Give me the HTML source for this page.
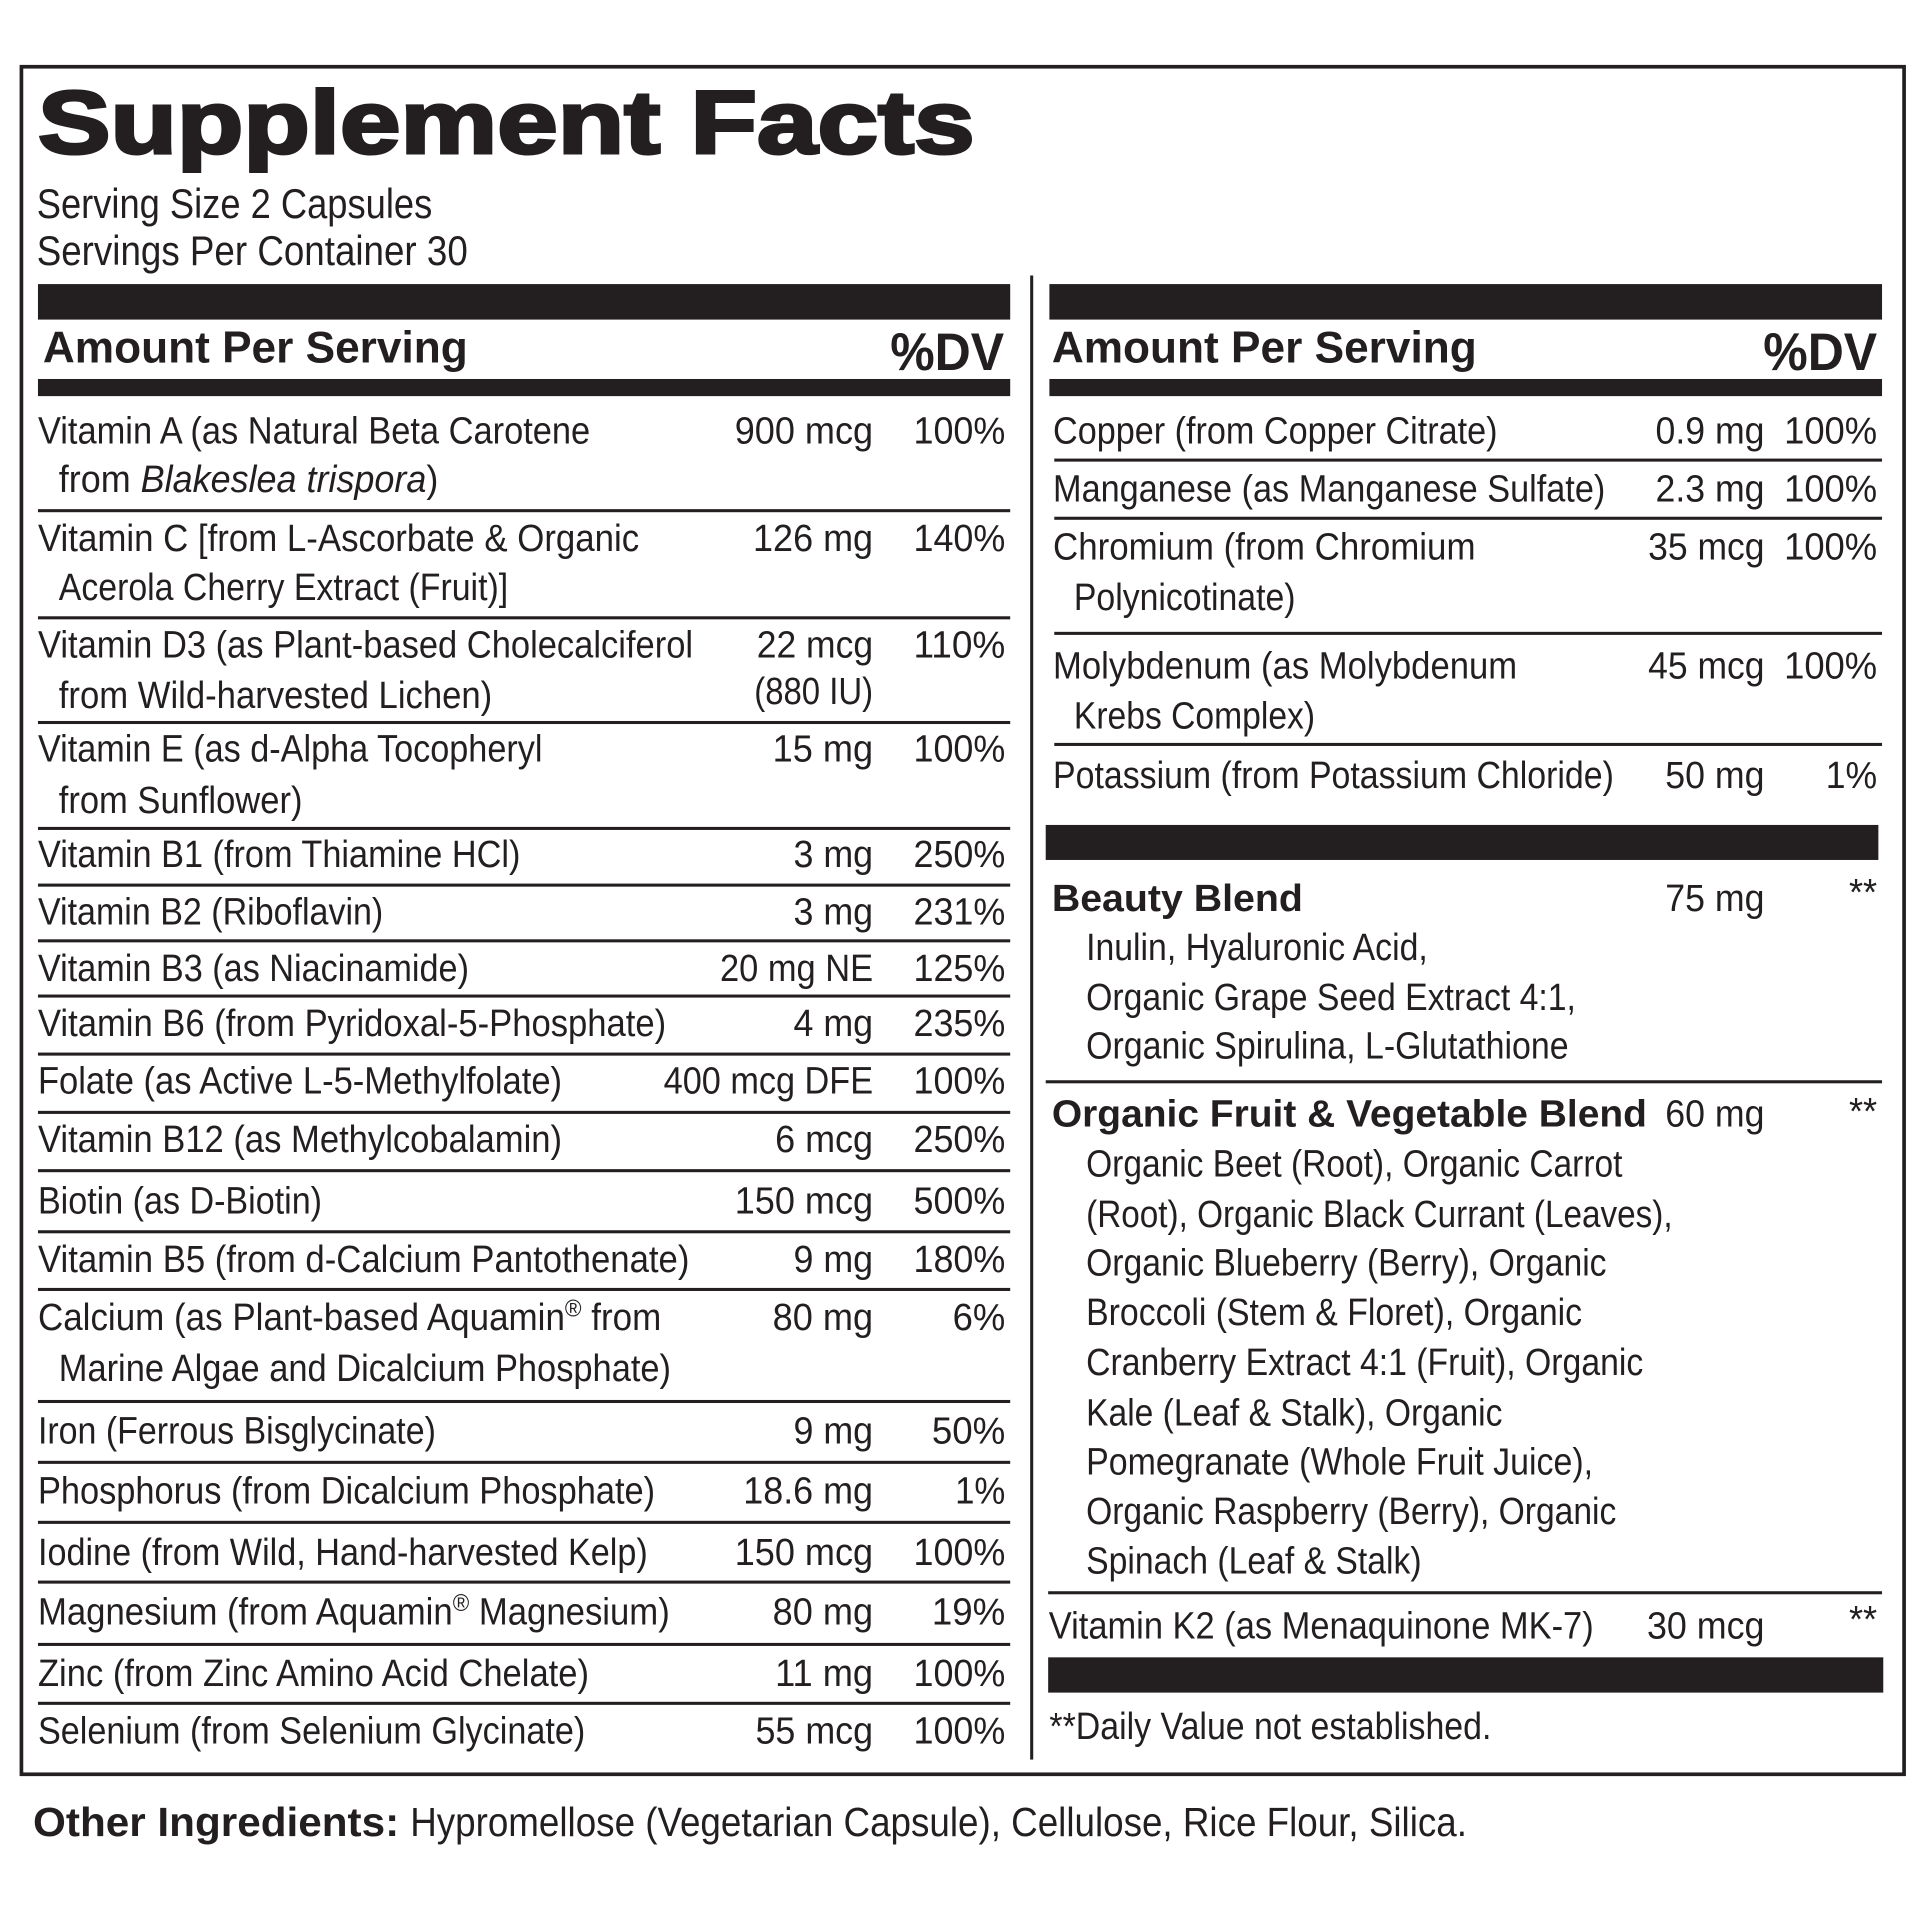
<!DOCTYPE html>
<html>
<head>
<meta charset="utf-8">
<style>
html,body{margin:0;padding:0;background:#fff;}
svg{display:block;}
text{font-family:"Liberation Sans",Arial,sans-serif;fill:#231f20;}
.r{font-size:31px;}
.b{font-size:31px;font-weight:bold;}
</style>
</head>
<body>
<svg width="1920" height="1920" viewBox="0 0 1568 1568" xmlns="http://www.w3.org/2000/svg">
<rect x="0" y="0" width="1568" height="1568" fill="#fff"/>
<!-- outer border -->
<rect x="17.5" y="54.5" width="1537.5" height="1394.5" fill="none" stroke="#231f20" stroke-width="3"/>

<!-- title -->
<text x="31" y="125" font-size="73" font-weight="bold" stroke="#231f20" stroke-width="2.5" textLength="765" lengthAdjust="spacingAndGlyphs">Supplement Facts</text>
<text x="30" y="178" font-size="34" textLength="323" lengthAdjust="spacingAndGlyphs">Serving Size 2 Capsules</text>
<text x="30" y="216.5" font-size="34" textLength="352" lengthAdjust="spacingAndGlyphs">Servings Per Container 30</text>

<!-- divider -->
<rect x="841.3" y="225" width="2.5" height="1212" fill="#231f20"/>

<!-- header bars -->
<rect x="31" y="232" width="794" height="29" fill="#231f20"/>
<rect x="857" y="232" width="680" height="29" fill="#231f20"/>
<text x="35" y="296" font-size="36" font-weight="bold" textLength="347" lengthAdjust="spacingAndGlyphs">Amount Per Serving</text>
<text x="820" y="302" font-size="43" font-weight="bold" text-anchor="end" textLength="93" lengthAdjust="spacingAndGlyphs">%DV</text>
<text x="859" y="296" font-size="36" font-weight="bold" textLength="347" lengthAdjust="spacingAndGlyphs">Amount Per Serving</text>
<text x="1533" y="302" font-size="43" font-weight="bold" text-anchor="end" textLength="93" lengthAdjust="spacingAndGlyphs">%DV</text>
<rect x="31" y="309.5" width="794" height="14" fill="#231f20"/>
<rect x="857" y="309.5" width="680" height="14" fill="#231f20"/>

<!-- left rules -->
<g fill="#231f20">
<rect x="31" y="415.8" width="794" height="2.5"/>
<rect x="31" y="503.3" width="794" height="2.5"/>
<rect x="31" y="588.8" width="794" height="2.5"/>
<rect x="31" y="675.3" width="794" height="2.5"/>
<rect x="31" y="721.6" width="794" height="2.5"/>
<rect x="31" y="767.1" width="794" height="2.5"/>
<rect x="31" y="812.2" width="794" height="2.5"/>
<rect x="31" y="859.6" width="794" height="2.5"/>
<rect x="31" y="907.2" width="794" height="2.5"/>
<rect x="31" y="954.8" width="794" height="2.5"/>
<rect x="31" y="1004.7" width="794" height="2.5"/>
<rect x="31" y="1051.8" width="794" height="2.5"/>
<rect x="31" y="1143.3" width="794" height="2.5"/>
<rect x="31" y="1193" width="794" height="2.5"/>
<rect x="31" y="1242" width="794" height="2.5"/>
<rect x="31" y="1290.8" width="794" height="2.5"/>
<rect x="31" y="1341.7" width="794" height="2.5"/>
<rect x="31" y="1389.8" width="794" height="2.5"/>
</g>

<!-- left labels -->
<g class="r">
<text class="r" x="31" y="362" textLength="451" lengthAdjust="spacingAndGlyphs">Vitamin A (as Natural Beta Carotene</text>
<text class="r" x="48" y="402" textLength="310" lengthAdjust="spacingAndGlyphs">from <tspan font-style="italic">Blakeslea trispora</tspan>)</text>
<text class="r" x="31" y="450" textLength="491" lengthAdjust="spacingAndGlyphs">Vitamin C [from L-Ascorbate &amp; Organic</text>
<text class="r" x="48" y="490" textLength="367" lengthAdjust="spacingAndGlyphs">Acerola Cherry Extract (Fruit)]</text>
<text class="r" x="31" y="537" textLength="535" lengthAdjust="spacingAndGlyphs">Vitamin D3 (as Plant-based Cholecalciferol</text>
<text class="r" x="48" y="578" textLength="354" lengthAdjust="spacingAndGlyphs">from Wild-harvested Lichen)</text>
<text class="r" x="31" y="622" textLength="412" lengthAdjust="spacingAndGlyphs">Vitamin E (as d-Alpha Tocopheryl</text>
<text class="r" x="48" y="664" textLength="199" lengthAdjust="spacingAndGlyphs">from Sunflower)</text>
<text class="r" x="31" y="708" textLength="394" lengthAdjust="spacingAndGlyphs">Vitamin B1 (from Thiamine HCl)</text>
<text class="r" x="31" y="755" textLength="282" lengthAdjust="spacingAndGlyphs">Vitamin B2 (Riboflavin)</text>
<text class="r" x="31" y="801" textLength="352" lengthAdjust="spacingAndGlyphs">Vitamin B3 (as Niacinamide)</text>
<text class="r" x="31" y="846" textLength="513" lengthAdjust="spacingAndGlyphs">Vitamin B6 (from Pyridoxal-5-Phosphate)</text>
<text class="r" x="31" y="893" textLength="428" lengthAdjust="spacingAndGlyphs">Folate (as Active L-5-Methylfolate)</text>
<text class="r" x="31" y="941" textLength="428" lengthAdjust="spacingAndGlyphs">Vitamin B12 (as Methylcobalamin)</text>
<text class="r" x="31" y="991" textLength="232" lengthAdjust="spacingAndGlyphs">Biotin (as D-Biotin)</text>
<text class="r" x="31" y="1039" textLength="532" lengthAdjust="spacingAndGlyphs">Vitamin B5 (from d-Calcium Pantothenate)</text>
<text class="r" x="31" y="1086" textLength="509" lengthAdjust="spacingAndGlyphs">Calcium (as Plant-based Aquamin<tspan font-size="20" dy="-11">®</tspan><tspan dy="11"> from</tspan></text>
<text class="r" x="48" y="1128" textLength="500" lengthAdjust="spacingAndGlyphs">Marine Algae and Dicalcium Phosphate)</text>
<text class="r" x="31" y="1179" textLength="325" lengthAdjust="spacingAndGlyphs">Iron (Ferrous Bisglycinate)</text>
<text class="r" x="31" y="1228" textLength="504" lengthAdjust="spacingAndGlyphs">Phosphorus (from Dicalcium Phosphate)</text>
<text class="r" x="31" y="1278" textLength="498" lengthAdjust="spacingAndGlyphs">Iodine (from Wild, Hand-harvested Kelp)</text>
<text class="r" x="31" y="1326.5" textLength="516" lengthAdjust="spacingAndGlyphs">Magnesium (from Aquamin<tspan font-size="20" dy="-11">®</tspan><tspan dy="11"> Magnesium)</tspan></text>
<text class="r" x="31" y="1377" textLength="450" lengthAdjust="spacingAndGlyphs">Zinc (from Zinc Amino Acid Chelate)</text>
<text class="r" x="31" y="1424" textLength="447" lengthAdjust="spacingAndGlyphs">Selenium (from Selenium Glycinate)</text>
</g>

<!-- left values -->
<g>
<text class="r" x="713" y="362" text-anchor="end" textLength="113" lengthAdjust="spacingAndGlyphs">900 mcg</text>
<text class="r" x="713" y="450" text-anchor="end" textLength="98" lengthAdjust="spacingAndGlyphs">126 mg</text>
<text class="r" x="713" y="537" text-anchor="end" textLength="95" lengthAdjust="spacingAndGlyphs">22 mcg</text>
<text class="r" x="713" y="575" text-anchor="end" textLength="97" lengthAdjust="spacingAndGlyphs">(880 IU)</text>
<text class="r" x="713" y="622" text-anchor="end" textLength="82" lengthAdjust="spacingAndGlyphs">15 mg</text>
<text class="r" x="713" y="708" text-anchor="end" textLength="65" lengthAdjust="spacingAndGlyphs">3 mg</text>
<text class="r" x="713" y="755" text-anchor="end" textLength="65" lengthAdjust="spacingAndGlyphs">3 mg</text>
<text class="r" x="713" y="801" text-anchor="end" textLength="125" lengthAdjust="spacingAndGlyphs">20 mg NE</text>
<text class="r" x="713" y="846" text-anchor="end" textLength="65" lengthAdjust="spacingAndGlyphs">4 mg</text>
<text class="r" x="713" y="893" text-anchor="end" textLength="171" lengthAdjust="spacingAndGlyphs">400 mcg DFE</text>
<text class="r" x="713" y="941" text-anchor="end" textLength="80" lengthAdjust="spacingAndGlyphs">6 mcg</text>
<text class="r" x="713" y="991" text-anchor="end" textLength="113" lengthAdjust="spacingAndGlyphs">150 mcg</text>
<text class="r" x="713" y="1039" text-anchor="end" textLength="65" lengthAdjust="spacingAndGlyphs">9 mg</text>
<text class="r" x="713" y="1086" text-anchor="end" textLength="82" lengthAdjust="spacingAndGlyphs">80 mg</text>
<text class="r" x="713" y="1179" text-anchor="end" textLength="65" lengthAdjust="spacingAndGlyphs">9 mg</text>
<text class="r" x="713" y="1228" text-anchor="end" textLength="106" lengthAdjust="spacingAndGlyphs">18.6 mg</text>
<text class="r" x="713" y="1278" text-anchor="end" textLength="113" lengthAdjust="spacingAndGlyphs">150 mcg</text>
<text class="r" x="713" y="1326.5" text-anchor="end" textLength="82" lengthAdjust="spacingAndGlyphs">80 mg</text>
<text class="r" x="713" y="1377" text-anchor="end" textLength="80" lengthAdjust="spacingAndGlyphs">11 mg</text>
<text class="r" x="713" y="1424" text-anchor="end" textLength="96" lengthAdjust="spacingAndGlyphs">55 mcg</text>
</g>

<!-- left %DV -->
<g>
<text class="r" x="821" y="362" text-anchor="end" textLength="75" lengthAdjust="spacingAndGlyphs">100%</text>
<text class="r" x="821" y="450" text-anchor="end" textLength="75" lengthAdjust="spacingAndGlyphs">140%</text>
<text class="r" x="821" y="537" text-anchor="end" textLength="75" lengthAdjust="spacingAndGlyphs">110%</text>
<text class="r" x="821" y="622" text-anchor="end" textLength="75" lengthAdjust="spacingAndGlyphs">100%</text>
<text class="r" x="821" y="708" text-anchor="end" textLength="75" lengthAdjust="spacingAndGlyphs">250%</text>
<text class="r" x="821" y="755" text-anchor="end" textLength="75" lengthAdjust="spacingAndGlyphs">231%</text>
<text class="r" x="821" y="801" text-anchor="end" textLength="75" lengthAdjust="spacingAndGlyphs">125%</text>
<text class="r" x="821" y="846" text-anchor="end" textLength="75" lengthAdjust="spacingAndGlyphs">235%</text>
<text class="r" x="821" y="893" text-anchor="end" textLength="75" lengthAdjust="spacingAndGlyphs">100%</text>
<text class="r" x="821" y="941" text-anchor="end" textLength="75" lengthAdjust="spacingAndGlyphs">250%</text>
<text class="r" x="821" y="991" text-anchor="end" textLength="75" lengthAdjust="spacingAndGlyphs">500%</text>
<text class="r" x="821" y="1039" text-anchor="end" textLength="75" lengthAdjust="spacingAndGlyphs">180%</text>
<text class="r" x="821" y="1086" text-anchor="end" textLength="43" lengthAdjust="spacingAndGlyphs">6%</text>
<text class="r" x="821" y="1179" text-anchor="end" textLength="60" lengthAdjust="spacingAndGlyphs">50%</text>
<text class="r" x="821" y="1228" text-anchor="end" textLength="41" lengthAdjust="spacingAndGlyphs">1%</text>
<text class="r" x="821" y="1278" text-anchor="end" textLength="75" lengthAdjust="spacingAndGlyphs">100%</text>
<text class="r" x="821" y="1326.5" text-anchor="end" textLength="60" lengthAdjust="spacingAndGlyphs">19%</text>
<text class="r" x="821" y="1377" text-anchor="end" textLength="75" lengthAdjust="spacingAndGlyphs">100%</text>
<text class="r" x="821" y="1424" text-anchor="end" textLength="75" lengthAdjust="spacingAndGlyphs">100%</text>
</g>

<!-- right rules & bars -->
<g fill="#231f20">
<rect x="861" y="374.5" width="676" height="2.5"/>
<rect x="861" y="422" width="676" height="2.5"/>
<rect x="861" y="516" width="676" height="2.5"/>
<rect x="861" y="606.7" width="676" height="2.5"/>
<rect x="854" y="673.7" width="680" height="28.6"/>
<rect x="854" y="882.2" width="683" height="2.5"/>
<rect x="856" y="1299.5" width="681" height="2.5"/>
<rect x="856" y="1353.5" width="682" height="28.8"/>
</g>

<!-- right labels -->
<text class="r" x="860" y="362" textLength="363" lengthAdjust="spacingAndGlyphs">Copper (from Copper Citrate)</text>
<text class="r" x="860" y="409.5" textLength="451" lengthAdjust="spacingAndGlyphs">Manganese (as Manganese Sulfate)</text>
<text class="r" x="860" y="457" textLength="345" lengthAdjust="spacingAndGlyphs">Chromium (from Chromium</text>
<text class="r" x="877" y="498" textLength="181" lengthAdjust="spacingAndGlyphs">Polynicotinate)</text>
<text class="r" x="860" y="554" textLength="379" lengthAdjust="spacingAndGlyphs">Molybdenum (as Molybdenum</text>
<text class="r" x="877" y="595" textLength="197" lengthAdjust="spacingAndGlyphs">Krebs Complex)</text>
<text class="r" x="860" y="643.5" textLength="458" lengthAdjust="spacingAndGlyphs">Potassium (from Potassium Chloride)</text>

<text class="r" x="1441" y="362" text-anchor="end" textLength="89" lengthAdjust="spacingAndGlyphs">0.9 mg</text>
<text class="r" x="1441" y="409.5" text-anchor="end" textLength="89" lengthAdjust="spacingAndGlyphs">2.3 mg</text>
<text class="r" x="1441" y="457" text-anchor="end" textLength="95" lengthAdjust="spacingAndGlyphs">35 mcg</text>
<text class="r" x="1441" y="554" text-anchor="end" textLength="95" lengthAdjust="spacingAndGlyphs">45 mcg</text>
<text class="r" x="1441" y="643.5" text-anchor="end" textLength="81" lengthAdjust="spacingAndGlyphs">50 mg</text>

<text class="r" x="1533" y="362" text-anchor="end" textLength="76" lengthAdjust="spacingAndGlyphs">100%</text>
<text class="r" x="1533" y="409.5" text-anchor="end" textLength="76" lengthAdjust="spacingAndGlyphs">100%</text>
<text class="r" x="1533" y="457" text-anchor="end" textLength="76" lengthAdjust="spacingAndGlyphs">100%</text>
<text class="r" x="1533" y="554" text-anchor="end" textLength="76" lengthAdjust="spacingAndGlyphs">100%</text>
<text class="r" x="1533" y="643.5" text-anchor="end" textLength="42" lengthAdjust="spacingAndGlyphs">1%</text>

<!-- Beauty Blend -->
<text class="b" x="859" y="744" textLength="205" lengthAdjust="spacingAndGlyphs">Beauty Blend</text>
<text class="r" x="1441" y="744" text-anchor="end" textLength="81" lengthAdjust="spacingAndGlyphs">75 mg</text>
<text class="r" x="1533" y="739" text-anchor="end" textLength="23" lengthAdjust="spacingAndGlyphs">**</text>
<text class="r" x="887" y="784" textLength="279" lengthAdjust="spacingAndGlyphs">Inulin, Hyaluronic Acid,</text>
<text class="r" x="887" y="825" textLength="400" lengthAdjust="spacingAndGlyphs">Organic Grape Seed Extract 4:1,</text>
<text class="r" x="887" y="864.5" textLength="394" lengthAdjust="spacingAndGlyphs">Organic Spirulina, L-Glutathione</text>

<!-- Fruit & Veg Blend -->
<text class="b" x="859" y="920" textLength="486" lengthAdjust="spacingAndGlyphs">Organic Fruit &amp; Vegetable Blend</text>
<text class="r" x="1441" y="920" text-anchor="end" textLength="81" lengthAdjust="spacingAndGlyphs">60 mg</text>
<text class="r" x="1533" y="918" text-anchor="end" textLength="23" lengthAdjust="spacingAndGlyphs">**</text>
<text class="r" x="887" y="961" textLength="438" lengthAdjust="spacingAndGlyphs">Organic Beet (Root), Organic Carrot</text>
<text class="r" x="887" y="1002" textLength="479" lengthAdjust="spacingAndGlyphs">(Root), Organic Black Currant (Leaves),</text>
<text class="r" x="887" y="1041.5" textLength="425" lengthAdjust="spacingAndGlyphs">Organic Blueberry (Berry), Organic</text>
<text class="r" x="887" y="1082" textLength="405" lengthAdjust="spacingAndGlyphs">Broccoli (Stem &amp; Floret), Organic</text>
<text class="r" x="887" y="1123" textLength="455" lengthAdjust="spacingAndGlyphs">Cranberry Extract 4:1 (Fruit), Organic</text>
<text class="r" x="887" y="1164" textLength="340" lengthAdjust="spacingAndGlyphs">Kale (Leaf &amp; Stalk), Organic</text>
<text class="r" x="887" y="1204" textLength="414" lengthAdjust="spacingAndGlyphs">Pomegranate (Whole Fruit Juice),</text>
<text class="r" x="887" y="1244.5" textLength="433" lengthAdjust="spacingAndGlyphs">Organic Raspberry (Berry), Organic</text>
<text class="r" x="887" y="1285" textLength="274" lengthAdjust="spacingAndGlyphs">Spinach (Leaf &amp; Stalk)</text>

<!-- K2 -->
<text class="r" x="856.5" y="1338" textLength="445" lengthAdjust="spacingAndGlyphs">Vitamin K2 (as Menaquinone MK-7)</text>
<text class="r" x="1441" y="1338" text-anchor="end" textLength="96" lengthAdjust="spacingAndGlyphs">30 mcg</text>
<text class="r" x="1533" y="1333" text-anchor="end" textLength="23" lengthAdjust="spacingAndGlyphs">**</text>

<text class="r" x="857" y="1420" textLength="361" lengthAdjust="spacingAndGlyphs">**Daily Value not established.</text>

<!-- Other ingredients -->
<text x="27" y="1499.5" font-size="33" font-weight="bold" textLength="299" lengthAdjust="spacingAndGlyphs">Other Ingredients:</text>
<text x="335" y="1499.5" font-size="33" textLength="863" lengthAdjust="spacingAndGlyphs">Hypromellose (Vegetarian Capsule), Cellulose, Rice Flour, Silica.</text>
</svg>
</body>
</html>
